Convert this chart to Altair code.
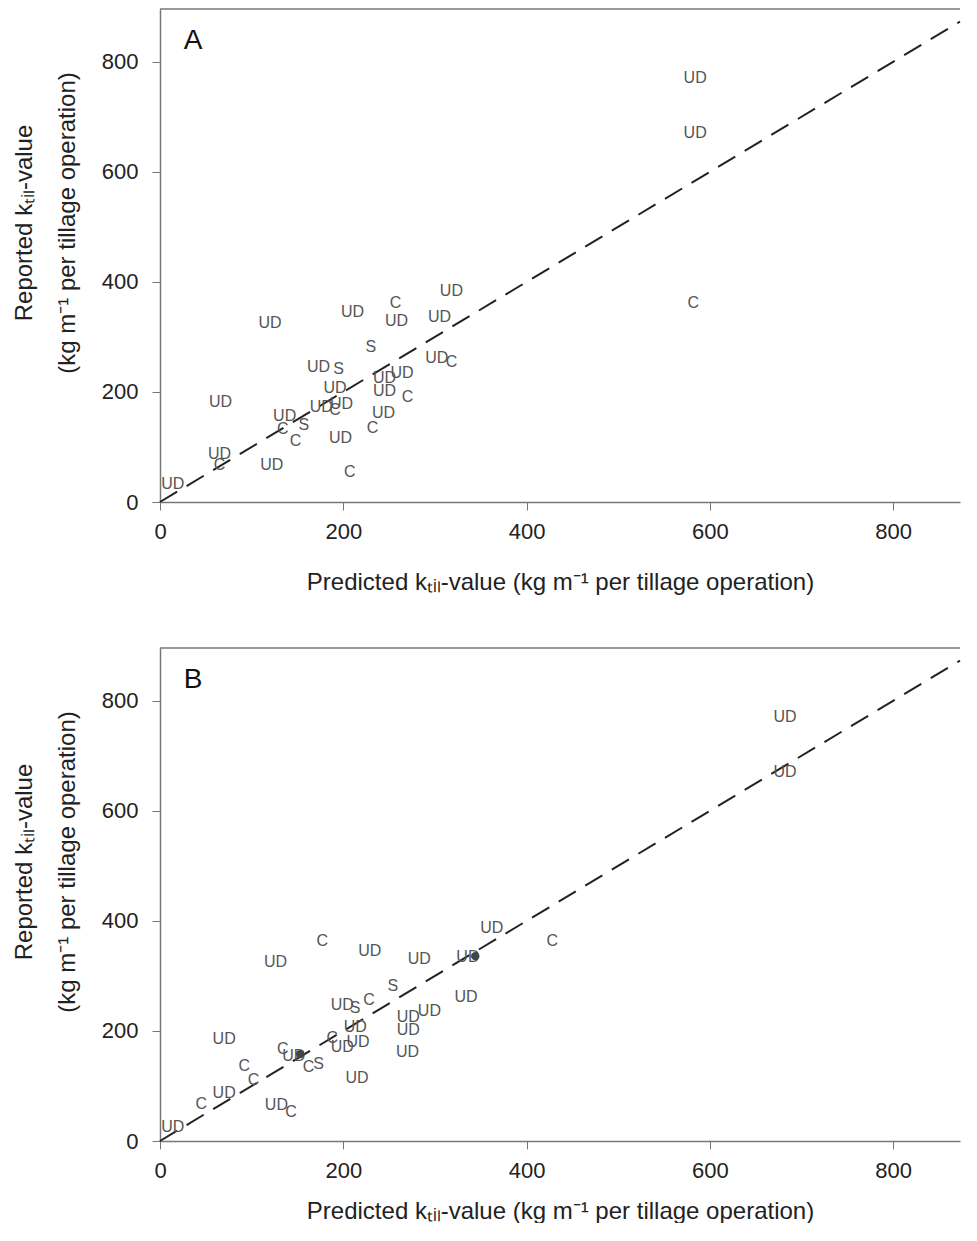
import altair as alt
import pandas as pd

# Panel A: predicted vs reported k_til
lab_a = ["UD","C","UD","UD","UD","UD","S","UD","S","UD","C","UD","UD","UD","UD","C","UD","UD","C","UD",
         "UD","UD","C","S","C","C","UD","C","UD","C","UD","UD","UD","UD","C"]
pred_a = [318,257,210,258,305,120,230,173,195,302,318,245,264,191,245,270,66,176,191,198,
          244,136,134,157,148,232,197,207,65,65,122,14,584,584,582]
rep_a = [384,362,346,329,336,326,281,245,241,262,255,226,235,207,202,190,181,173,168,178,
         162,156,132,140,111,135,116,55,87,68,67,32,770,670,361]

# Panel B
lab_b = ["C","UD","UD","UD","UD","UD","S","UD","C","UD","S","UD","UD","UD","UD","C","UD","UD","UD","UD",
         "C","UD","C","S","C","C","UD","UD","C","UD","C","UD","UD","UD","C"]
pred_b = [177,229,126,283,336,362,254,334,228,199,213,271,294,271,213,188,199,216,270,70,
          134,146,162,173,92,102,215,70,45,127,143,14,682,682,428]
rep_b = [364,346,325,331,335,387,281,262,256,247,242,225,237,201,207,188,171,180,162,185,
         167,155,134,140,137,110,114,88,67,66,52,25,771,671,364]

dot_pred_b = [344, 153]
dot_rep_b = [336, 158]

line_vals = [0, 873]
ticks = [0, 200, 400, 600, 800]

W, H = 800, 493
XMAX, YMAX = 873, 896
FONT = "Liberation Sans"

xtitle = "Predicted kₜᵢₗ-value (kg m⁻¹ per tillage operation)"
ytitle1 = "Reported kₜᵢₗ-value"
ytitle2 = "(kg m⁻¹ per tillage operation)"


def panel(labs, preds, reps, letter, tpad, dots=None):
    df = pd.DataFrame({"pred": preds, "rep": reps, "lab": labs})
    xs = alt.Scale(domain=[0, XMAX], nice=False, zero=False)
    ys = alt.Scale(domain=[0, YMAX], nice=False, zero=False)
    xax = alt.Axis(values=ticks, title=xtitle, tickSize=8, labelPadding=11, labelFontSize=22,
                   labelFlush=False, titlePadding=tpad, titleFontSize=24, titleFontWeight="normal",
                   labelFont=FONT, titleFont=FONT, grid=False)
    yax = alt.Axis(values=ticks, title=None, tickSize=8, labelPadding=14, labelFontSize=22,
                   labelFlush=False, minExtent=60, maxExtent=60,
                   labelFont=FONT, grid=False)
    ldf = pd.DataFrame({"pred": line_vals, "rep": line_vals})
    line = alt.Chart(ldf).mark_line(strokeDash=[20, 11], color="#222", strokeWidth=2).encode(
        x=alt.X("pred:Q", scale=xs, axis=xax), y=alt.Y("rep:Q", scale=ys, axis=yax))
    text = alt.Chart(df).mark_text(fontSize=16, color="#555", font=FONT, align="center",
                                   baseline="middle").encode(
        x=alt.X("pred:Q", scale=xs, axis=xax), y=alt.Y("rep:Q", scale=ys, axis=yax), text="lab:N")
    top = alt.Chart(pd.DataFrame({"a": [0]})).mark_rule(color="#777", strokeWidth=1.5).encode(
        x=alt.value(0), x2=alt.value(W), y=alt.value(0))
    let = alt.Chart(pd.DataFrame({"t": [letter]})).mark_text(fontSize=28, color="#111", font=FONT,
                                                             align="center", baseline="middle").encode(
        x=alt.value(33), y=alt.value(32), text="t:N")
    yt = alt.Chart(pd.DataFrame({"t": [ytitle1, ytitle2], "px": [-135, -92]})).mark_text(
        fontSize=24, color="#222", font=FONT, angle=270, align="center", baseline="middle").encode(
        x=alt.X("px:Q", scale=None), y=alt.value(214), text="t:N")
    edge = alt.Chart(pd.DataFrame({"a": [0]})).mark_rule(strokeOpacity=0, color="#fff").encode(
        x=alt.value(-152), x2=alt.value(-150), y=alt.value(200))
    layers = [line, text, top, let, yt, edge]
    if dots is not None:
        ddf = pd.DataFrame({"pred": dots[0], "rep": dots[1]})
        layers.append(alt.Chart(ddf).mark_circle(size=70, color="#444", opacity=1).encode(
            x=alt.X("pred:Q", scale=xs, axis=xax), y=alt.Y("rep:Q", scale=ys, axis=yax)))
    return alt.layer(*layers).properties(width=W, height=H)


chart = alt.vconcat(
    panel(lab_a, pred_a, rep_a, "A", 28),
    panel(lab_b, pred_b, rep_b, "B", 18, dots=(dot_pred_b, dot_rep_b)),
    spacing=53,
).properties(padding=0).configure_view(stroke=None).configure_axis(
    domainColor="#777", tickColor="#777", labelColor="#222", titleColor="#222", domainWidth=1.5
)

chart.save("out.html", embed_options={"renderer": "svg", "actions": False})
